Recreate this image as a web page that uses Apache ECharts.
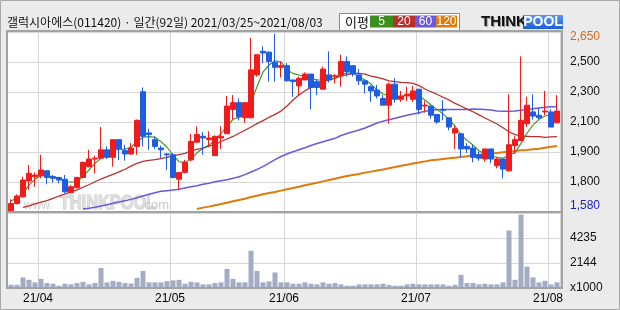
<!DOCTYPE html>
<html><head><meta charset="utf-8">
<script src="https://cdn.jsdelivr.net/npm/echarts@6/dist/echarts.min.js"></script>
<style>html,body{margin:0;padding:0;background:#ebebeb;}#c{width:620px;height:310px;}</style>
</head><body><div id="c"></div>
<script>
// ---- DATA ----
const tradingDays = {
  '2021/03': [25,26,29,30,31],
  '2021/04': [1,2,5,6,7,8,9,12,13,14,15,16,19,20,21,22,23,26,27,28,29,30],
  '2021/05': [3,4,6,7,10,11,12,13,14,17,18,20,21,24,25,26,27,28,31],
  '2021/06': [1,2,3,4,7,8,9,10,11,14,15,16,17,18,21,22,23,24,25,28,29,30],
  '2021/07': [1,2,5,6,7,8,9,12,13,14,15,16,19,20,21,22,23,26,27,28,29,30],
  '2021/08': [2,3]
};
const opens = [1585,1630,1670,1765,1790,1795,1825,1790,1785,1775, 1695,1725,1785,1850,1895,1900,1950,1905,2010,1945,
  1925,1970,2295,2050,2010,1960,1925,1920,1775,1815, 1890,1995,2030,2010,1915,2020,2045,2190,2230,2140,
  2140,2395,2535,2530,2470,2440,2450,2365,2330,2365, 2400,2355,2310,2395,2385,2390,2475,2450,2395,2360,
  2325,2305,2255,2215,2340,2250,2270,2250,2310,2210, 2210,2160,2190,2140,2050,2045,1970,1960,1920,1895,
  1955,1855,1895,1825,1975,2005,2105,2175,2155,2175, 2175,2110];
const closes = [1630,1675,1770,1810,1800,1830,1785,1780,1770,1700, 1730,1785,1875,1895,1900,1950,1905,2010,1955,1925,
  1960,2125,2030,2040,1970,1950,1920,1785,1815,1875, 2000,2040,2020,2020,2030,2030,2210,2230,2145,2230,
  2425,2515,2525,2475,2440,2450,2360,2355,2375,2400, 2320,2320,2430,2365,2390,2475,2415,2400,2360,2340,
  2300,2270,2215,2340,2250,2270,2280,2300,2190,2215, 2155,2115,2185,2085,2075,1955,1955,1905,1900,1955,
  1895,1895,1835,1980,2010,2125,2215,2150,2140,2180, 2085,2180];
const lows = [1575,1625,1665,1710,1730,1780,1745,1755,1750,1690, 1690,1720,1780,1845,1810,1895,1895,1850,1890,1885,
  1920,1920,1970,1950,1955,1900,1830,1780,1710,1810, 1880,1990,1920,1965,1915,1955,2045,2130,2125,2110,
  2140,2385,2465,2355,2355,2380,2355,2265,2275,2365, 2190,2275,2310,2350,2345,2325,2385,2385,2335,2285,
  2235,2255,2215,2105,2230,2235,2240,2235,2160,2170, 2135,2105,2125,2065,1955,1905,1930,1875,1885,1880,
  1870,1840,1780,1820,1925,2005,2085,2130,2130,2155, 2085,2110];
const highs = [1655,1685,1790,1860,1815,1920,1830,1800,1790,1800, 1740,1790,1880,1950,1915,2085,1970,2010,2010,1980,
  1990,2130,2320,2075,2030,1975,1930,1930,1815,1890, 2045,2090,2055,2060,2035,2090,2270,2275,2255,2230,
  2615,2515,2565,2535,2640,2475,2465,2365,2385,2410, 2400,2370,2445,2535,2400,2515,2505,2450,2430,2360,
  2335,2335,2275,2350,2375,2300,2325,2330,2310,2240, 2210,2160,2245,2140,2090,2045,1990,1980,1940,1955,
  1955,1905,1895,2280,2030,2505,2265,2280,2200,2300, 2190,2275];
const ma5 = [1647,1661,1691,1740,1776,1796,1796,1790,1780,1760, 1758,1760,1790,1830,1869,1899,1919,1944,1953,1953,
  1965,1998,2024,2028,2024,1998,1965,1919,1879,1875, 1895,1932,1959,1978,2008,2048,2087,2131,2143,2167,
  2228,2325,2412,2454,2479,2472,2424,2404,2394,2384, 2375,2365,2365,2369,2375,2394,2408,2404,2384,2365,
  2341,2305,2281,2270,2265,2265,2275,2289,2270,2246, 2216,2190,2163,2131,2091,2038,2006,1978,1944,1925,
  1913,1905,1899,1919,1932,1988,2048,2097,2131,2151, 2157,2157];
const ma20 = [null,null,1608,1617,1628,1638,1647,1661,1675,1687, 1699,1711,1727,1742,1760,1776,1790,1804,1818,1834,
  1853,1869,1881,1887,1891,1897,1905,1913,1921,1929, 1944,1952,1960,1971,1984,1999,2014,2029,2048,2066,
  2085,2105,2123,2143,2160,2180,2210,2246,2275,2301, 2321,2337,2353,2365,2375,2388,2396,2404,2404,2400,
  2388,2381,2371,2360,2355,2351,2349,2345,2331,2311, 2295,2280,2262,2246,2226,2210,2192,2176,2157,2139,
  2121,2103,2081,2057,2040,2032,2030,2028,2028,2024, 2026,2028];
const ma60 = [null,null,null,null,null,null,null,null,null,null, null,null,1598,1602,1608,1616,1623,1632,1639,1647,
  1655,1665,1675,1685,1695,1703,1707,1711,1715,1723, 1730,1736,1745,1751,1760,1766,1772,1780,1790,1802,
  1818,1833,1850,1871,1891,1910,1925,1938,1950,1962, 1975,1987,1998,2008,2018,2035,2047,2057,2067,2079,
  2094,2109,2119,2129,2137,2146,2155,2163,2170,2179, 2185,2188,2190,2190,2190,2190,2190,2192,2191,2190,
  2186,2180,2179,2179,2180,2185,2190,2194,2198,2202, 2206,2206];
const ma120 = [null,null,null,null,null,null,null,null,null,null, null,null,null,null,null,null,null,null,null,null,
  null,null,null,null,null,null,null,null,null,null, null,1598,1606,1612,1620,1628,1635,1644,1651,1659,
  1669,1677,1685,1693,1699,1707,1715,1723,1730,1739, 1746,1754,1762,1770,1778,1786,1794,1800,1806,1814,
  1820,1827,1833,1840,1847,1855,1861,1868,1874,1881, 1887,1891,1895,1899,1903,1907,1911,1917,1921,1923,
  1927,1931,1935,1938,1943,1947,1949,1953,1956,1962, 1968,1972];
const volumes = [280,280,910,705,485,790,425,365,195,365, 315,425,535,315,425,1725,485,620,535,425,
  380,875,1470,485,485,485,595,655,705,365, 535,485,315,315,425,485,1640,790,485,485,
  3205,1470,485,570,1335,485,485,365,365,485, 365,315,485,365,425,315,195,195,315,315,
  315,315,365,255,195,195,315,365,315,315, 315,315,315,195,280,1130,425,425,315,365,
  315,315,485,4955,705,6315,1845,910,485,620, 315,485];
const priceTickLabels = ['1,580','1,800','1,900','2,100','2,300','2,500','2,650'];
const volumeTickLabels = ['x1000','2144','4235',''];
const titleText = '갤럭시아에스(011420) · 일간(92일) 2021/03/25~2021/08/03';
const maNames = ['5','20','60','120'];

// ---- BUILD ----
const dates = [];
Object.keys(tradingDays).forEach(m => tradingDays[m].forEach(d => dates.push(m + '/' + String(d).padStart(2,'0'))));
const monthStart = new Set();
dates.forEach((d,i) => { if (i > 0 && d.slice(0,7) !== dates[i-1].slice(0,7)) monthStart.add(i); });
const isMS = (i) => monthStart.has(i);
const candleData = dates.map((d,i) => [opens[i], closes[i], lows[i], highs[i]]);

const UP = '#f01c1c', DOWN = '#1f5de0';
const maColors = ['#3d8f1d', '#b8302c', '#6a58e0', '#e07a0c'];
const gridColor = '#d6d6d6';
const FONT = '"Liberation Sans", Arial, sans-serif';
const KFONT = '"Noto Sans CJK KR", sans-serif';

const chart = echarts.init(document.getElementById('c'), null, {renderer: 'canvas', width: 620, height: 310});

const catAxis = (gi, showLabel) => ({
  type: 'category', gridIndex: gi, data: dates, boundaryGap: true,
  axisLine: {show: false}, axisTick: {show: false, interval: isMS},
  splitLine: {show: true, interval: isMS, lineStyle: {color: gridColor, width: 1}},
  axisLabel: {show: showLabel, interval: isMS, color: '#000', fontSize: 12, fontFamily: FONT, margin: 5,
    padding: [0, 6, 0, 0],
    formatter: v => v.slice(2,4) + '/' + v.slice(5,7)}
});

const legendItems = [];
const legendX = [370, 393, 415, 436];
const legendW = [23, 22, 21, 21];
maNames.forEach((n, k) => {
  legendItems.push({type: 'rect', shape: {x: legendX[k], y: 15.5, width: legendW[k], height: 12}, style: {fill: maColors[k]}, z: 20});
  legendItems.push({type: 'text', x: legendX[k] + legendW[k]/2, y: 22, style: {text: n, fill: '#fff', font: '12px ' + FONT, align: 'center', verticalAlign: 'middle'}, z: 21});
});

const option = {
  backgroundColor: '#ebebeb',
  animation: false,
  grid: [
    {left: 8, top: 32, width: 552, height: 180},
    {left: 8, top: 213, width: 552, height: 75}
  ],
  xAxis: [catAxis(0, false), catAxis(1, true)],
  yAxis: [
    {type: 'value', gridIndex: 0, min: 1580, max: 2650, show: false, position: 'left'},
    {type: 'value', gridIndex: 0, min: 0, max: 6, interval: 1, position: 'right',
      axisLine: {show: false}, axisTick: {show: false},
      splitLine: {show: true, lineStyle: {color: gridColor, width: 1}},
      axisLabel: {margin: 10, showMinLabel: true, showMaxLabel: true,
        formatter: v => { const i = Math.round(v); const s = priceTickLabels[i];
          return i === 0 ? '{b|' + s + '}' : (i === 6 ? '{t|' + s + '}' : '{n|' + s + '}'); },
        rich: {
          n: {color: '#111', fontSize: 12, fontFamily: FONT},
          t: {color: '#d2691e', fontSize: 12, fontFamily: FONT, padding: [10, 0, 0, 0]},
          b: {color: '#1c1cc8', fontSize: 12, fontFamily: FONT, padding: [0, 0, 12, 0]}
        }}},
    {type: 'value', gridIndex: 1, min: 0, max: 6460, show: false, position: 'left'},
    {type: 'value', gridIndex: 1, min: 0, max: 3, interval: 1, position: 'right',
      axisLine: {show: false}, axisTick: {show: false},
      splitLine: {show: true, lineStyle: {color: gridColor, width: 1}},
      axisLabel: {margin: 10, showMinLabel: true, showMaxLabel: true, color: '#111', fontSize: 12, fontFamily: FONT,
        formatter: v => volumeTickLabels[Math.round(v)]}}
  ],
  series: [
    {name: 'MA120', type: 'line', xAxisIndex: 0, yAxisIndex: 0, data: ma120, symbol: 'none', z: 2,
      lineStyle: {color: maColors[3], width: 2}},
    {name: 'MA60', type: 'line', xAxisIndex: 0, yAxisIndex: 0, data: ma60, symbol: 'none', z: 2,
      lineStyle: {color: maColors[2], width: 1.5}},
    {name: 'MA20', type: 'line', xAxisIndex: 0, yAxisIndex: 0, data: ma20, symbol: 'none', z: 2,
      lineStyle: {color: maColors[1], width: 1.3}},
    {name: 'MA5', type: 'line', xAxisIndex: 0, yAxisIndex: 0, data: ma5, symbol: 'none', z: 2,
      lineStyle: {color: maColors[0], width: 1.1}},
    {name: 'price', type: 'candlestick', xAxisIndex: 0, yAxisIndex: 0, data: candleData, barWidth: 5, z: 3,
      itemStyle: {color: UP, color0: DOWN, borderColor: UP, borderColor0: DOWN, borderWidth: 1}},
    {name: 'volume', type: 'bar', xAxisIndex: 1, yAxisIndex: 2, data: volumes, barWidth: 5,
      itemStyle: {color: '#a3abc5'}}
  ],
  graphic: {elements: [
    {type: 'rect', shape: {x: 7, y: 31, width: 555, height: 257}, style: {fill: '#fff'}, z: -20},
    // watermark
    {type: 'text', x: 24, y: 206, style: {text: 'www.', fill: '#cfcfcf', font: '12px ' + FONT, verticalAlign: 'middle'}, z: -5},
    {type: 'text', x: 49, y: 203, scaleX: 0.78, originX: 49, style: {text: 'THINKPOOL', fill: '#dedede', stroke: '#c6c6c6', lineWidth: 1, font: 'bold 21px ' + FONT, verticalAlign: 'middle'}, z: -5},
    {type: 'text', x: 141, y: 205, style: {text: '.com', fill: '#c9c9c9', font: '13px ' + FONT, verticalAlign: 'middle'}, z: -5},
    // borders
    {type: 'rect', shape: {x: 7, y: 31, width: 555, height: 257}, style: {fill: null, stroke: '#a2a2a2', lineWidth: 2}, z: 50},
    {type: 'line', shape: {x1: 7, y1: 212, x2: 562, y2: 212}, style: {stroke: '#a2a2a2', lineWidth: 2}, z: 50},
    {type: 'rect', shape: {x: 0.5, y: 0.5, width: 619, height: 309}, style: {fill: null, stroke: '#a8a8a8', lineWidth: 1}, z: 50},
    // title
    {type: 'text', x: 7, y: 22, style: {text: titleText, fill: '#111', font: '12px ' + KFONT, verticalAlign: 'middle'}, z: 20},
    // legend box
    {type: 'rect', shape: {x: 339.5, y: 13.5, width: 120, height: 17}, style: {fill: '#fff', stroke: '#8c8c8c', lineWidth: 1}, z: 19},
    {type: 'text', x: 345, y: 22, style: {text: '이평', fill: '#111', font: '13px ' + KFONT, verticalAlign: 'middle'}, z: 20},
    ...legendItems,
    // logo
    {type: 'text', x: 482, y: 23, style: {text: 'THINK', fill: '#9a9a9a', font: 'bold 15px ' + FONT, verticalAlign: 'middle'}, z: 20},
    {type: 'text', x: 481, y: 22, style: {text: 'THINK', fill: '#111', font: 'bold 15px ' + FONT, verticalAlign: 'middle'}, z: 21},
    {type: 'rect', shape: {x: 523, y: 15, width: 40, height: 14}, style: {fill: new echarts.graphic.LinearGradient(0, 0, 0, 1, [{offset: 0, color: '#5a96f0'}, {offset: 1, color: '#1f5fd2'}])}, z: 20},
    {type: 'text', x: 543, y: 22, style: {text: 'POOL', fill: '#fff', font: 'bold 14px ' + FONT, align: 'center', verticalAlign: 'middle'}, z: 21}
  ]}
};
chart.setOption(option);
</script>
</body></html>
